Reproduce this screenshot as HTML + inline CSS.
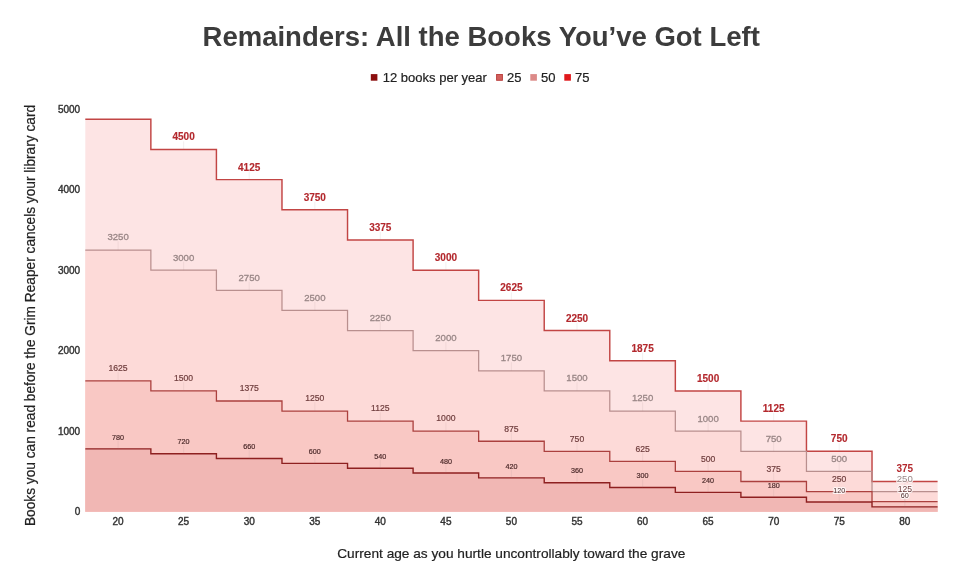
<!DOCTYPE html>
<html><head><meta charset="utf-8"><title>Remainders: All the Books You've Got Left</title>
<style>
html,body{margin:0;padding:0;background:#fff;}
body{width:960px;height:579px;overflow:hidden;font-family:"Liberation Sans",Arial,sans-serif;}
svg{display:block}
text{font-family:"Liberation Sans",Arial,sans-serif;}
</style></head><body>
<svg width="960" height="579" viewBox="0 0 960 579">
<rect width="960" height="579" fill="#ffffff"/>
<text x="481.2" y="45.5" text-anchor="middle" font-size="27.5" font-weight="bold" fill="#3c3c3c">Remainders: All the Books You’ve Got Left</text>
<g font-size="13" fill="#222222" stroke="#222222" stroke-width="0.2"><rect stroke="none" x="370.8" y="74.1" width="6.6" height="6.6" fill="#8b0f0f"/><text x="382.8" y="81.9">12 books per year</text><rect x="496.6" y="74.5" width="5.8" height="5.8" fill="#d2605d" stroke="#b83a38" stroke-width="0.9"/><text x="507" y="81.9">25</text><rect stroke="none" x="530.3" y="74.1" width="6.6" height="6.6" fill="#dc8a88"/><text x="541" y="81.9">50</text><rect stroke="none" x="564.3" y="74.1" width="6.6" height="6.6" fill="#e0181b"/><text x="575" y="81.9">75</text></g>
<path d="M85.30,119.26H150.86V149.45H216.42V179.64H281.98V209.82H347.54V240.01H413.10V270.20H478.66V300.39H544.22V330.57H609.78V360.76H675.34V390.95H740.90V421.14H806.46V451.32H872.02V481.51H937.58V511.70H85.30Z" fill="#fde4e4"/>
<path d="M85.30,250.07H150.86V270.20H216.42V290.32H281.98V310.45H347.54V330.57H413.10V350.70H478.66V370.82H544.22V390.95H609.78V411.07H675.34V431.20H740.90V451.32H806.46V471.45H872.02V491.57H937.58V511.70H85.30Z" fill="#fddad8"/>
<path d="M85.30,380.89H150.86V390.95H216.42V401.01H281.98V411.07H347.54V421.14H413.10V431.20H478.66V441.26H544.22V451.32H609.78V461.39H675.34V471.45H740.90V481.51H806.46V491.57H872.02V501.64H937.58V511.70H85.30Z" fill="#f9c8c4"/>
<path d="M85.30,448.91H150.86V453.74H216.42V458.57H281.98V463.40H347.54V468.23H413.10V473.06H478.66V477.89H544.22V482.72H609.78V487.55H675.34V492.38H740.90V497.21H806.46V502.04H872.02V506.87H937.58V511.70H85.30Z" fill="#f1b7b4"/>
<path d="M85.30,119.26H150.86V149.45H216.42V179.64H281.98V209.82H347.54V240.01H413.10V270.20H478.66V300.39H544.22V330.57H609.78V360.76H675.34V390.95H740.90V421.14H806.46V451.32H872.02V481.51H937.58" fill="none" stroke="#c24544" stroke-width="1.45"/>
<path d="M85.30,250.07H150.86V270.20H216.42V290.32H281.98V310.45H347.54V330.57H413.10V350.70H478.66V370.82H544.22V390.95H609.78V411.07H675.34V431.20H740.90V451.32H806.46V471.45H872.02V491.57H937.58" fill="none" stroke="#b98f8e" stroke-width="1.25"/>
<path d="M85.30,380.89H150.86V390.95H216.42V401.01H281.98V411.07H347.54V421.14H413.10V431.20H478.66V441.26H544.22V451.32H609.78V461.39H675.34V471.45H740.90V481.51H806.46V491.57H872.02V501.64H937.58" fill="none" stroke="#ab403e" stroke-width="1.3"/>
<path d="M85.30,448.91H150.86V453.74H216.42V458.57H281.98V463.40H347.54V468.23H413.10V473.06H478.66V477.89H544.22V482.72H609.78V487.55H675.34V492.38H740.90V497.21H806.46V502.04H872.02V506.87H937.58" fill="none" stroke="#8e2020" stroke-width="1.4"/>
<g stroke="#9a8080" stroke-opacity="0.12" stroke-width="1"><path d="M183.6,141.3V149.4"/><path d="M249.2,171.5V179.6"/><path d="M314.8,201.7V209.8"/><path d="M380.3,231.9V240.0"/><path d="M445.9,262.1V270.2"/><path d="M511.4,292.3V300.4"/><path d="M577.0,322.5V330.6"/><path d="M642.6,352.7V360.8"/><path d="M708.1,382.9V390.9"/><path d="M773.7,413.0V421.1"/><path d="M839.2,443.2V451.3"/><path d="M904.8,473.4V481.5"/></g><g font-size="10" font-weight="bold" fill="#b3282d" text-anchor="middle" stroke="#b3282d" stroke-width="0.15" stroke-linejoin="round" paint-order="stroke"><text x="183.6" y="140.3">4500</text><text x="249.2" y="170.5">4125</text><text x="314.8" y="200.7">3750</text><text x="380.3" y="230.9">3375</text><text x="445.9" y="261.1">3000</text><text x="511.4" y="291.3">2625</text><text x="577.0" y="321.5">2250</text><text x="642.6" y="351.7">1875</text><text x="708.1" y="381.9">1500</text><text x="773.7" y="412.0">1125</text><text x="839.2" y="442.2">750</text><text x="904.8" y="472.4" stroke="#ffffff" stroke-opacity="0.8" stroke-width="2.2">375</text></g>
<g stroke="#9a8080" stroke-opacity="0.12" stroke-width="1"><path d="M118.1,241.4V250.1"/><path d="M183.6,261.6V270.2"/><path d="M249.2,281.7V290.3"/><path d="M314.8,301.8V310.4"/><path d="M380.3,321.9V330.6"/><path d="M445.9,342.1V350.7"/><path d="M511.4,362.2V370.8"/><path d="M577.0,382.3V390.9"/><path d="M642.6,402.4V411.1"/><path d="M708.1,422.6V431.2"/><path d="M773.7,442.7V451.3"/><path d="M839.2,462.8V471.4"/><path d="M904.8,482.9V491.6"/></g><g font-size="9.6" font-weight="normal" fill="#998686" text-anchor="middle" stroke="#998686" stroke-width="0.3" stroke-linejoin="round" paint-order="stroke"><text x="118.1" y="240.4">3250</text><text x="183.6" y="260.6">3000</text><text x="249.2" y="280.7">2750</text><text x="314.8" y="300.8">2500</text><text x="380.3" y="320.9">2250</text><text x="445.9" y="341.1">2000</text><text x="511.4" y="361.2">1750</text><text x="577.0" y="381.3">1500</text><text x="642.6" y="401.4">1250</text><text x="708.1" y="421.6">1000</text><text x="773.7" y="441.7">750</text><text x="839.2" y="461.8">500</text><text x="904.8" y="481.9" stroke="#ffffff" stroke-opacity="0.8" stroke-width="2.2">250</text></g>
<g stroke="#9a8080" stroke-opacity="0.12" stroke-width="1"><path d="M118.1,372.1V380.9"/><path d="M183.6,382.1V390.9"/><path d="M249.2,392.2V401.0"/><path d="M314.8,402.3V411.1"/><path d="M380.3,412.3V421.1"/><path d="M445.9,422.4V431.2"/><path d="M511.4,432.5V441.3"/><path d="M577.0,442.5V451.3"/><path d="M642.6,452.6V461.4"/><path d="M708.1,462.6V471.4"/><path d="M773.7,472.7V481.5"/><path d="M839.2,482.8V491.6"/><path d="M904.8,492.8V501.6"/></g><g font-size="8.6" font-weight="normal" fill="#6e3c3c" text-anchor="middle" stroke="#6e3c3c" stroke-width="0.2" stroke-linejoin="round" paint-order="stroke"><text x="118.1" y="371.1">1625</text><text x="183.6" y="381.1">1500</text><text x="249.2" y="391.2">1375</text><text x="314.8" y="401.3">1250</text><text x="380.3" y="411.3">1125</text><text x="445.9" y="421.4">1000</text><text x="511.4" y="431.5">875</text><text x="577.0" y="441.5">750</text><text x="642.6" y="451.6">625</text><text x="708.1" y="461.6">500</text><text x="773.7" y="471.7">375</text><text x="839.2" y="481.8">250</text><text x="904.8" y="491.8" stroke="#ffffff" stroke-opacity="0.8" stroke-width="2.2">125</text></g>
<g stroke="#9a8080" stroke-opacity="0.12" stroke-width="1"><path d="M118.1,440.5V448.9"/><path d="M183.6,445.3V453.7"/><path d="M249.2,450.2V458.6"/><path d="M314.8,455.0V463.4"/><path d="M380.3,459.8V468.2"/><path d="M445.9,464.7V473.1"/><path d="M511.4,469.5V477.9"/><path d="M577.0,474.3V482.7"/><path d="M642.6,479.1V487.6"/><path d="M708.1,484.0V492.4"/><path d="M773.7,488.8V497.2"/><path d="M839.2,493.6V502.0"/><path d="M904.8,498.5V506.9"/></g><g font-size="7.2" font-weight="normal" fill="#4d2b2b" text-anchor="middle" stroke="#4d2b2b" stroke-width="0.2" stroke-linejoin="round" paint-order="stroke"><text x="118.1" y="439.5">780</text><text x="183.6" y="444.3">720</text><text x="249.2" y="449.2">660</text><text x="314.8" y="454.0">600</text><text x="380.3" y="458.8">540</text><text x="445.9" y="463.7">480</text><text x="511.4" y="468.5">420</text><text x="577.0" y="473.3">360</text><text x="642.6" y="478.1">300</text><text x="708.1" y="483.0">240</text><text x="773.7" y="487.8">180</text><text x="839.2" y="492.6" stroke="#ffffff" stroke-opacity="0.8" stroke-width="2.2">120</text><text x="904.8" y="497.5" stroke="#ffffff" stroke-opacity="0.8" stroke-width="2.2">60</text></g>
<g font-size="10" fill="#333333" stroke="#333333" stroke-width="0.4" text-anchor="end"><text x="80.2" y="515.1">0</text><text x="80.2" y="434.6">1000</text><text x="80.2" y="354.1">2000</text><text x="80.2" y="273.6">3000</text><text x="80.2" y="193.1">4000</text><text x="80.2" y="112.6">5000</text></g>
<g font-size="10" fill="#333333" stroke="#333333" stroke-width="0.4" text-anchor="middle"><text x="118.1" y="525.0">20</text><text x="183.6" y="525.0">25</text><text x="249.2" y="525.0">30</text><text x="314.8" y="525.0">35</text><text x="380.3" y="525.0">40</text><text x="445.9" y="525.0">45</text><text x="511.4" y="525.0">50</text><text x="577.0" y="525.0">55</text><text x="642.6" y="525.0">60</text><text x="708.1" y="525.0">65</text><text x="773.7" y="525.0">70</text><text x="839.2" y="525.0">75</text><text x="904.8" y="525.0">80</text></g>
<text x="511.3" y="557.9" text-anchor="middle" font-size="13.68" fill="#222222" stroke="#222222" stroke-width="0.2">Current age as you hurtle uncontrollably toward the grave</text>
<text transform="translate(34.7,315.5) rotate(-90)" text-anchor="middle" font-size="13.71" fill="#222222" stroke="#222222" stroke-width="0.2">Books you can read before the Grim Reaper cancels your library card</text>
</svg></body></html>
